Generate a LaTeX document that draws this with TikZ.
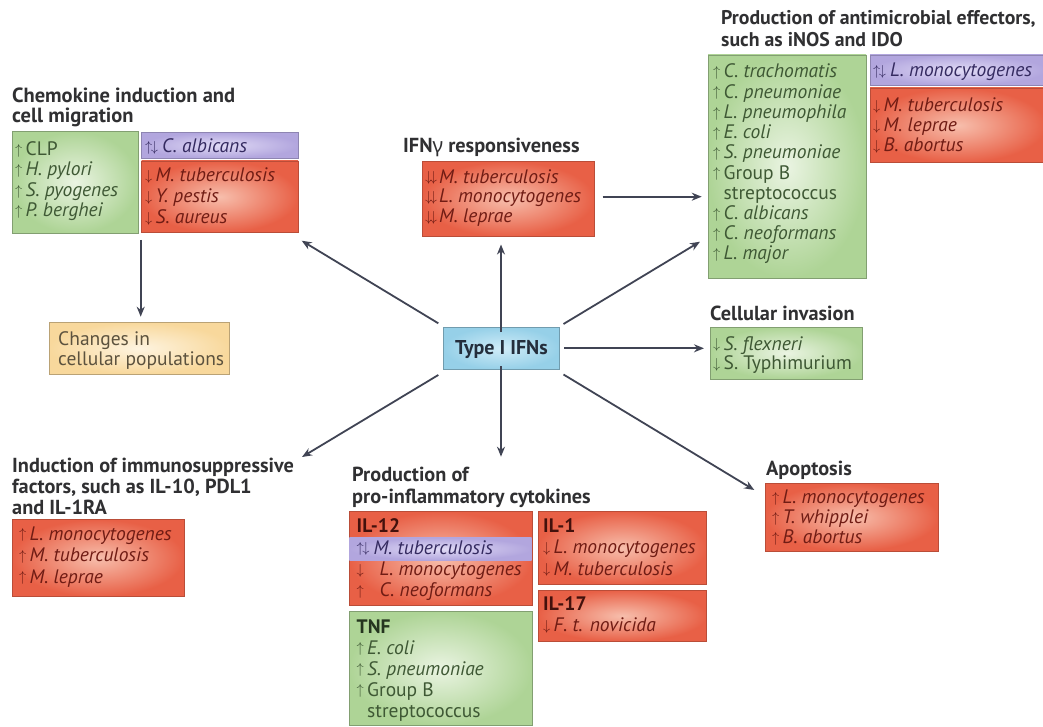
\documentclass[tikz,border=0pt]{standalone}
\usepackage{fontspec}
\setmainfont{PT Sans}
\newfontfamily\gkfont{Noto Sans}
\usetikzlibrary{arrows.meta}
\definecolor{gOut}{RGB}{174,212,150}
\definecolor{gIn}{RGB}{234,244,226}
\definecolor{gTx}{RGB}{62,88,52}
\definecolor{rOut}{RGB}{232,96,70}
\definecolor{rIn}{RGB}{247,190,172}
\definecolor{rTx}{RGB}{112,28,20}
\definecolor{pOut}{RGB}{178,166,222}
\definecolor{pIn}{RGB}{224,218,245}
\definecolor{pTx}{RGB}{52,42,96}
\definecolor{yOut}{RGB}{248,216,156}
\definecolor{yIn}{RGB}{254,244,224}
\definecolor{yTx}{RGB}{92,82,62}
\definecolor{bOut}{RGB}{150,208,232}
\definecolor{bIn}{RGB}{208,236,248}
\definecolor{bTx}{RGB}{36,46,60}
\definecolor{hd}{RGB}{48,48,50}
\definecolor{ar}{RGB}{64,68,84}
\newcommand\ua{\raisebox{1.2pt}{\fontsize{15}{15}\selectfont$\uparrow$}}
\newcommand\da{\raisebox{1.2pt}{\fontsize{15}{15}\selectfont$\downarrow$}}
\newcommand\Uar{\makebox[10.5pt][l]{\ua}}
\newcommand\Dar{\makebox[10.5pt][l]{\da}}
\newcommand\UD{\makebox[17pt][l]{\ua\kern-1.5pt\da}}
\newcommand\DD{\makebox[14pt][l]{\da\kern-2.5pt\da}}
\newcommand\Ubig{\makebox[23pt][l]{\ua}}
\newcommand\Dbig{\makebox[23pt][l]{\da}}
\newcommand\bx[6]{\node[#1, minimum width={#4-#2}, minimum height={#5-#3}] (#6) at (#2,#3) {};}
\begin{document}
\begin{tikzpicture}[x=1pt,y=-1pt,
  box/.style={inner sep=0pt, outer sep=0pt, anchor=north west, line width=0.7pt},
  gbox/.style={box, shade, inner color=gIn, outer color=gOut, draw=gOut!75!black},
  rbox/.style={box, shade, inner color=rIn, outer color=rOut, draw=rOut!80!black},
  pbox/.style={box, shade, inner color=pIn, outer color=pOut, draw=pOut!80!black},
  ybox/.style={box, shade, inner color=yIn, outer color=yOut, draw=yOut!75!black},
  bbox/.style={box, shade, inner color=bIn, outer color=bOut, draw=bOut!75!black},
  band/.style={box, shade, inner color=pIn, outer color=pOut},
  txt/.style={anchor=base west, inner sep=0pt, align=left, font=\fontsize{19.5}{20.5}\selectfont},
  hdg/.style={anchor=base west, inner sep=0pt, align=left, text=hd, font=\bfseries\fontsize{20.3}{21}\selectfont},
  arr/.style={draw=ar, line width=1.8pt, -{Stealth[length=10pt,width=8pt]}}]
\fill[white] (0,0) rectangle (1043,727);
\useasboundingbox (0,0) rectangle (1043,727);

% headings (base = last line)
\node[hdg, font=\bfseries\fontsize{20.5}{20}\selectfont] (hChem) at (12,122.5) {Chemokine induction and\\cell migration};
\node[hdg] (hIfng) at (403,153) {IFN{\gkfont γ} responsiveness};
\node[hdg, font=\bfseries\fontsize{19.8}{21.5}\selectfont] (hAnti) at (721,46.5) {Production of antimicrobial effectors,\\such as iNOS and IDO};
\node[hdg] (hInv) at (710,320) {Cellular invasion};
\node[hdg] (hApo) at (766,475) {Apoptosis};
\node[hdg] (hImm) at (12,514.5) {Induction of immunosuppressive\\factors, such as IL-10, PDL1\\and IL-1RA};
\node[hdg, font=\bfseries\fontsize{20.3}{21.5}\selectfont] (hCyt) at (352,503) {Production of\\pro-inflammatory cytokines};

% boxes
\bx{gbox}{12}{131.5}{138}{233}{chemG}
\bx{pbox}{141.5}{132.5}{298}{158}{chemP}
\bx{rbox}{141.5}{161}{298}{232.5}{chemR}
\bx{ybox}{49}{322.5}{229}{374}{changes}
\bx{rbox}{422}{161.5}{594}{236.5}{ifng}
\bx{gbox}{708}{55}{866}{278}{antiG}
\bx{pbox}{870}{55}{1046}{85}{antiP}
\bx{rbox}{870}{88}{1046}{162.5}{antiR}
\bx{bbox}{443.5}{327}{559.5}{369.5}{ifn}
\bx{gbox}{710}{327}{862.5}{379}{inv}
\bx{rbox}{765}{483.5}{938}{551}{apo}
\bx{rbox}{12}{519.5}{184}{596.5}{imm}
\bx{rbox}{349}{511.5}{532}{605.5}{il12}
\bx{band}{349.4}{537.7}{531.6}{560}{il12band}
\bx{gbox}{349}{611.5}{532}{725.5}{tnf}
\bx{rbox}{538}{511.5}{706.5}{584.5}{il1}
\bx{rbox}{538}{590}{706.5}{641.5}{il17}

% box texts (base = last line)
\node[txt, text=gTx] (chemGt) at (15,217) {\Uar CLP\\\Uar\textit{H. pylori}\\\Uar\textit{S. pyogenes}\\\Uar\textit{P. berghei}};
\node[txt, text=pTx] (chemPt) at (145,152.5) {\UD\textit{C. albicans}};
\node[txt, text=rTx, font=\fontsize{19.5}{20.8}\selectfont] (chemRt) at (145,223.3) {\Dar\textit{M. tuberculosis}\\\Dar\textit{Y. pestis}\\\Dar\textit{S. aureus}};
\node[txt, text=yTx] (changest) at (58,365.5) {Changes in\\cellular populations};
\node[txt, text=rTx, font=\fontsize{19.5}{19.7}\selectfont] (ifngt) at (425,222.5) {\DD\textit{M. tuberculosis}\\\DD\textit{L. monocytogenes}\\\DD\textit{M. leprae}};
\node[txt, text=gTx, font=\fontsize{19.5}{20.2}\selectfont] (antiGt) at (713,259.8) {\Uar\textit{C. trachomatis}\\\Uar\textit{C. pneumoniae}\\\Uar\textit{L. pneumophila}\\\Uar\textit{E. coli}\\\Uar\textit{S. pneumoniae}\\\Uar Group B\\\hspace*{10.5pt}streptococcus\\\Uar\textit{C. albicans}\\\Uar\textit{C. neoformans}\\\Uar\textit{L. major}};
\node[txt, text=pTx] (antiPt) at (873,77) {\UD\textit{L. monocytogenes}};
\node[txt, text=rTx, font=\fontsize{19.5}{20}\selectfont] (antiRt) at (873,151.7) {\Dar\textit{M. tuberculosis}\\\Dar\textit{M. leprae}\\\Dar\textit{B. abortus}};
\node[anchor=base, inner sep=0pt, text=bTx, font=\bfseries\fontsize{20}{20}\selectfont] (ifnt) at (501.5,354.3) {Type I IFNs};
\node[txt, text=gTx, font=\fontsize{19.5}{19.5}\selectfont] (invt) at (713,369.5) {\Dar\textit{S. flexneri}\\\Dar S. Typhimurium};
\node[txt, text=rTx, font=\fontsize{19.5}{20}\selectfont] (apot) at (772,543.5) {\Uar\textit{L. monocytogenes}\\\Uar\textit{T. whipplei}\\\Uar\textit{B. abortus}};
\node[txt, text=rTx, font=\fontsize{19.5}{21.5}\selectfont] (immt) at (19,583) {\Uar\textit{L. monocytogenes}\\\Uar\textit{M. tuberculosis}\\\Uar\textit{M. leprae}};
\node[txt, text=rTx!60!black, font=\bfseries\fontsize{19.5}{21}\selectfont] (il12h) at (356.5,532.7) {IL-12};
\node[txt, text=pTx] (il12b) at (356.5,554) {\UD\textit{M. tuberculosis}};
\node[txt, text=rTx, font=\fontsize{19.5}{21.3}\selectfont] (il12t) at (356.5,596.6) {\Dbig\textit{L. monocytogenes}\\\Ubig\textit{C. neoformans}};
\node[txt, text=gTx, font=\fontsize{19.5}{21}\selectfont] (tnft) at (356.5,717) {{\bfseries\color{gTx!60!black}TNF}\\\Uar\textit{E. coli}\\\Uar\textit{S. pneumoniae}\\\Uar Group B\\\hspace*{10.5pt}streptococcus};
\node[txt, text=rTx, font=\fontsize{19.5}{21.2}\selectfont] (il1t) at (543,575.1) {{\bfseries\color{rTx!60!black}IL-1}\\\Dar\textit{L. monocytogenes}\\\Dar\textit{M. tuberculosis}};
\node[txt, text=rTx, font=\fontsize{19.5}{21}\selectfont] (il17t) at (543,631.5) {{\bfseries\color{rTx!60!black}IL-17}\\\Dar\textit{F. t. novicida}};

% arrow end points
\coordinate (tChem) at (301.7,240.7);
\coordinate (tIfng) at (501,244.5);
\coordinate (tAntiH) at (701.7,196.7);
\coordinate (tAntiD) at (700,241.7);
\coordinate (tInv) at (704,348.3);
\coordinate (tApo) at (754.3,490);
\coordinate (tCyt) at (501,456.7);
\coordinate (tImm) at (302,457);
\coordinate (tChg) at (140.7,316.7);
\coordinate (sChg) at (140.7,240);
\coordinate (sAntiH) at (602.7,196.7);

% connectors
\draw[arr] ([shift={(-5.2,-3.7)}]ifn.north west) -- (tChem);
\draw[arr] ([yshift=-5]ifn.north -| tIfng) -- (tIfng);
\draw[arr] ([shift={(4,-3)}]ifn.north east) -- (tAntiD);
\draw[arr] ([xshift=4.5]ifn.east |- tInv) -- (tInv);
\draw[arr] ([shift={(4,5)}]ifn.south east) -- (tApo);
\draw[arr] ([yshift=3.2]ifn.south -| tCyt) -- (tCyt);
\draw[arr] ([shift={(-5.2,5.5)}]ifn.south west) -- (tImm);
\draw[arr] (sAntiH) -- (tAntiH);
\draw[arr] (sChg) -- (tChg);
\end{tikzpicture}
\end{document}
